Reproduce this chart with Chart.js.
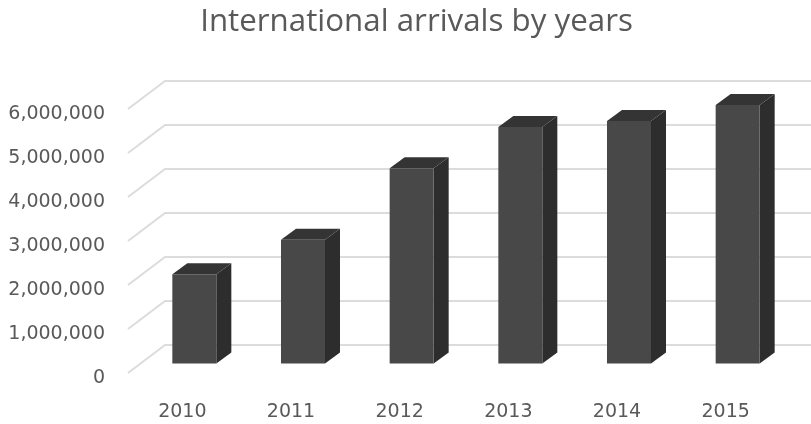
<!DOCTYPE html>
<html>
<head>
<meta charset="utf-8">
<title>International arrivals by years</title>
<script src="https://cdn.jsdelivr.net/npm/chart.js@4/dist/chart.umd.min.js"></script>
<style>
    html, body { margin: 0; padding: 0; background: #fff; overflow: hidden; }
    #wrap { width: 811px; height: 424px; }
</style>
</head>
<body>
<div id="wrap"><canvas id="chart"></canvas></div>
<script>
const years = ['2010', '2011', '2012', '2013', '2014', '2015']
const arrivals = [2030000, 2810000, 4440000, 5375000, 5510000, 5875000]
const yMax = 6000000
const yStep = 1000000

// how far the back wall sits behind the axis plane, and the bars inside that depth
const wallDx = 37, wallDy = 28
const barShiftX = 12, barShiftY = 9.5
const barDx = 15, barDy = 11

function poly(ctx, pts, color) {
    ctx.fillStyle = color
    ctx.beginPath()
    pts.forEach((p, i) => i ? ctx.lineTo(p[0], p[1]) : ctx.moveTo(p[0], p[1]))
    ctx.closePath()
    ctx.fill()
}

const fake3d = {
    id: 'fake3d',
    afterLayout(chart) {
        // title is centred a bit right of the canvas centre
        chart.titleBlock.left = 22
        chart.titleBlock.right = 811
    },
    beforeDatasetsDraw(chart) {
        const { ctx, scales: { x, y } } = chart
        ctx.save()
        ctx.strokeStyle = '#dcdcdc'
        ctx.lineWidth = 2
        y.ticks.forEach(t => {
            const py = y.getPixelForValue(t.value)
            ctx.beginPath()
            ctx.moveTo(x.left, py)
            ctx.lineTo(x.left + wallDx, py - wallDy)
            ctx.lineTo(x.right + wallDx, py - wallDy)
            ctx.stroke()
        })
        ctx.restore()
    },
    beforeDatasetDraw(chart, args) {
        const { ctx } = chart
        ctx.save()
        ctx.translate(barShiftX, -barShiftY)
        args.meta.data.forEach(bar => {
            const l = bar.x - bar.width / 2, r = bar.x + bar.width / 2
            const t = bar.y, b = bar.base
            poly(ctx, [[r, t], [r + barDx, t - barDy], [r + barDx, b - barDy], [r, b]], '#2d2d2d')
            poly(ctx, [[l, t], [l + barDx, t - barDy], [r + barDx, t - barDy], [r, t]], '#343434')
        })
    },
    afterDatasetDraw(chart) {
        chart.ctx.restore()
    }
}

new Chart(document.getElementById('chart'), {
    type: 'bar',
    plugins: [fake3d],
    data: {
        labels: years,
        datasets: [{
            data: arrivals,
            backgroundColor: '#484848',
            clip: false,
            barPercentage: 0.405,
            categoryPercentage: 1
        }]
    },
    options: {
        responsive: true,
        maintainAspectRatio: false,
        animation: false,
        layout: { padding: { left: 0, right: 31, top: 0, bottom: 0 } },
        plugins: {
            legend: { display: false },
            tooltip: { enabled: false },
            title: {
                display: true,
                text: 'International arrivals by years',
                color: '#595959',
                font: { family: '"Open Sans"', size: 31.3, weight: 'normal' },
                padding: { top: 3, bottom: 68.44 }
            }
        },
        scales: {
            x: {
                grid: { display: false, drawTicks: false },
                border: { display: false },
                afterFit: s => { s.height = 51 },
                ticks: {
                    color: '#595959',
                    padding: 28,
                    maxRotation: 0,
                    font: { family: '"DejaVu Sans"', size: 19 }
                }
            },
            y: {
                min: 0,
                max: yMax,
                grid: { display: false, drawTicks: false },
                border: { display: false },
                afterFit: s => { s.width = 128 },
                ticks: {
                    stepSize: yStep,
                    color: '#595959',
                    padding: 23,
                    labelOffset: 5,
                    font: { family: '"DejaVu Sans"', size: 19 },
                    callback: v => v.toLocaleString('en-US')
                }
            }
        }
    }
})
</script>
</body>
</html>
